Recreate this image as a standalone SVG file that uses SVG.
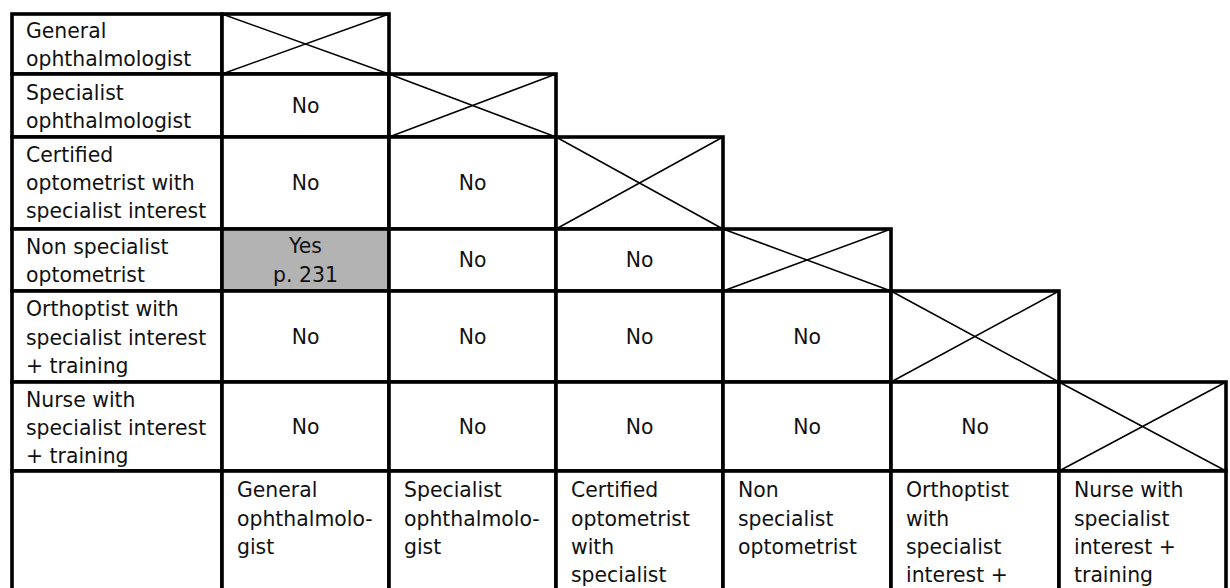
<svg xmlns="http://www.w3.org/2000/svg" width="1230" height="588" viewBox="0 0 1230 588">
<style>
.c{fill:#fff;stroke:#000;stroke-width:3.6}
.g{fill:#b3b3b3;stroke:#000;stroke-width:3.6}
.x{stroke:#000;stroke-width:1.5;fill:none}
text{font-family:"DejaVu Sans","Liberation Sans",sans-serif;font-size:20.4px;fill:#111}
.m{text-anchor:middle}
</style>
<rect width="1230" height="588" fill="#fff"/>
<!-- Row 1 -->
<g id="r1-label"><rect class="c" x="12" y="14" width="210" height="60"/><text x="26" y="38">General</text><text x="26" y="66">ophthalmologist</text></g>
<g id="r1-x"><rect class="c" x="222" y="14" width="167" height="60"/><path class="x" d="M222 14L389 74M222 74L389 14"/></g>
<!-- Row 2 -->
<g id="r2-label"><rect class="c" x="12" y="74" width="210" height="63"/><text x="26" y="100">Specialist</text><text x="26" y="128">ophthalmologist</text></g>
<g id="r2-c1"><rect class="c" x="222" y="74" width="167" height="63"/><text class="m" x="305.5" y="113">No</text></g>
<g id="r2-x"><rect class="c" x="389" y="74" width="167" height="63"/><path class="x" d="M389 74L556 137M389 137L556 74"/></g>
<!-- Row 3 -->
<g id="r3-label"><rect class="c" x="12" y="137" width="210" height="92"/><text x="26" y="162">Certified</text><text x="26" y="190">optometrist with</text><text x="26" y="218">specialist interest</text></g>
<g id="r3-c1"><rect class="c" x="222" y="137" width="167" height="92"/><text class="m" x="305.5" y="190">No</text></g>
<g id="r3-c2"><rect class="c" x="389" y="137" width="167" height="92"/><text class="m" x="472.5" y="190">No</text></g>
<g id="r3-x"><rect class="c" x="556" y="137" width="167" height="92"/><path class="x" d="M556 137L723 229M556 229L723 137"/></g>
<!-- Row 4 -->
<g id="r4-label"><rect class="c" x="12" y="229" width="210" height="62"/><text x="26" y="254">Non specialist</text><text x="26" y="282">optometrist</text></g>
<g id="r4-c1"><rect class="g" x="222" y="229" width="167" height="62"/><text class="m" x="305.5" y="253">Yes</text><text class="m" x="305.5" y="282">p. 231</text></g>
<g id="r4-c2"><rect class="c" x="389" y="229" width="167" height="62"/><text class="m" x="472.5" y="267">No</text></g>
<g id="r4-c3"><rect class="c" x="556" y="229" width="167" height="62"/><text class="m" x="639.5" y="267">No</text></g>
<g id="r4-x"><rect class="c" x="723" y="229" width="168" height="62"/><path class="x" d="M723 229L891 291M723 291L891 229"/></g>
<!-- Row 5 -->
<g id="r5-label"><rect class="c" x="12" y="291" width="210" height="91"/><text x="26" y="316">Orthoptist with</text><text x="26" y="345">specialist interest</text><text x="26" y="373">+ training</text></g>
<g id="r5-c1"><rect class="c" x="222" y="291" width="167" height="91"/><text class="m" x="305.5" y="344">No</text></g>
<g id="r5-c2"><rect class="c" x="389" y="291" width="167" height="91"/><text class="m" x="472.5" y="344">No</text></g>
<g id="r5-c3"><rect class="c" x="556" y="291" width="167" height="91"/><text class="m" x="639.5" y="344">No</text></g>
<g id="r5-c4"><rect class="c" x="723" y="291" width="168" height="91"/><text class="m" x="807" y="344">No</text></g>
<g id="r5-x"><rect class="c" x="891" y="291" width="168" height="91"/><path class="x" d="M891 291L1059 382M891 382L1059 291"/></g>
<!-- Row 6 -->
<g id="r6-label"><rect class="c" x="12" y="382" width="210" height="89"/><text x="26" y="407">Nurse with</text><text x="26" y="435">specialist interest</text><text x="26" y="463">+ training</text></g>
<g id="r6-c1"><rect class="c" x="222" y="382" width="167" height="89"/><text class="m" x="305.5" y="434">No</text></g>
<g id="r6-c2"><rect class="c" x="389" y="382" width="167" height="89"/><text class="m" x="472.5" y="434">No</text></g>
<g id="r6-c3"><rect class="c" x="556" y="382" width="167" height="89"/><text class="m" x="639.5" y="434">No</text></g>
<g id="r6-c4"><rect class="c" x="723" y="382" width="168" height="89"/><text class="m" x="807" y="434">No</text></g>
<g id="r6-c5"><rect class="c" x="891" y="382" width="168" height="89"/><text class="m" x="975" y="434">No</text></g>
<g id="r6-x"><rect class="c" x="1059" y="382" width="167" height="89"/><path class="x" d="M1059 382L1226 471M1059 471L1226 382"/></g>
<!-- Header row (bottom) -->
<g id="h0"><rect class="c" x="12" y="471" width="210" height="160"/></g>
<g id="h1"><rect class="c" x="222" y="471" width="167" height="160"/><text x="237" y="497">General</text><text x="237" y="526">ophthalmolo-</text><text x="237" y="554">gist</text></g>
<g id="h2"><rect class="c" x="389" y="471" width="167" height="160"/><text x="404" y="497">Specialist</text><text x="404" y="526">ophthalmolo-</text><text x="404" y="554">gist</text></g>
<g id="h3"><rect class="c" x="556" y="471" width="167" height="160"/><text x="571" y="497">Certified</text><text x="571" y="526">optometrist</text><text x="571" y="554">with</text><text x="571" y="582">specialist</text></g>
<g id="h4"><rect class="c" x="723" y="471" width="168" height="160"/><text x="738" y="497">Non</text><text x="738" y="526">specialist</text><text x="738" y="554">optometrist</text></g>
<g id="h5"><rect class="c" x="891" y="471" width="168" height="160"/><text x="906" y="497">Orthoptist</text><text x="906" y="526">with</text><text x="906" y="554">specialist</text><text x="906" y="582">interest +</text></g>
<g id="h6"><rect class="c" x="1059" y="471" width="167" height="160"/><text x="1074" y="497">Nurse with</text><text x="1074" y="526">specialist</text><text x="1074" y="554">interest +</text><text x="1074" y="582">training</text></g>
<g id="connectors"/>
</svg>
